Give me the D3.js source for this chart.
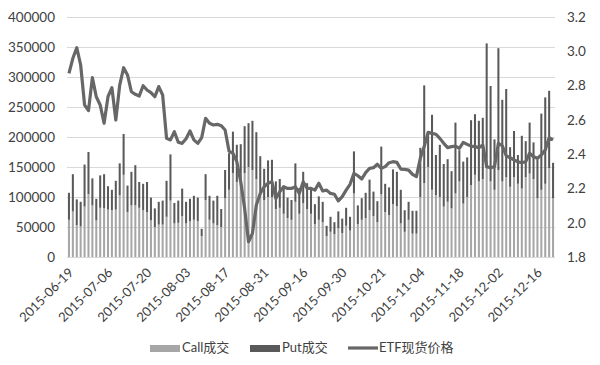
<!DOCTYPE html>
<html><head><meta charset="utf-8">
<script src="https://cdn.jsdelivr.net/npm/d3@7"></script>
<style>
body{margin:0;background:#fff;}
svg{display:block;font-family:Lato,"Noto Sans CJK SC",sans-serif;}
</style></head>
<body><svg id="c" width="600" height="365"></svg>
<script>
const dates = ["2015-06-19","2015-06-23","2015-06-24","2015-06-25","2015-06-26","2015-06-29","2015-06-30",
"2015-07-01","2015-07-02","2015-07-03","2015-07-06","2015-07-07","2015-07-08","2015-07-09","2015-07-10",
"2015-07-13","2015-07-14","2015-07-15","2015-07-16","2015-07-17","2015-07-20","2015-07-21","2015-07-22","2015-07-23","2015-07-24",
"2015-07-27","2015-07-28","2015-07-29","2015-07-30","2015-07-31","2015-08-03","2015-08-04","2015-08-05","2015-08-06","2015-08-07",
"2015-08-10","2015-08-11","2015-08-12","2015-08-13","2015-08-14","2015-08-17","2015-08-18","2015-08-19","2015-08-20","2015-08-21",
"2015-08-24","2015-08-25","2015-08-26","2015-08-27","2015-08-28","2015-08-31","2015-09-01","2015-09-02",
"2015-09-07","2015-09-08","2015-09-09","2015-09-10","2015-09-11","2015-09-14","2015-09-15","2015-09-16","2015-09-17","2015-09-18",
"2015-09-21","2015-09-22","2015-09-23","2015-09-24","2015-09-25","2015-09-28","2015-09-29","2015-09-30",
"2015-10-08","2015-10-09","2015-10-12","2015-10-13","2015-10-14","2015-10-15","2015-10-16","2015-10-19","2015-10-20","2015-10-21",
"2015-10-22","2015-10-23","2015-10-26","2015-10-27","2015-10-28","2015-10-29","2015-10-30","2015-11-02","2015-11-03","2015-11-04",
"2015-11-05","2015-11-06","2015-11-09","2015-11-10","2015-11-11","2015-11-12","2015-11-13","2015-11-16","2015-11-17","2015-11-18",
"2015-11-19","2015-11-20","2015-11-23","2015-11-24","2015-11-25","2015-11-26","2015-11-27","2015-11-30","2015-12-01","2015-12-02",
"2015-12-03","2015-12-04","2015-12-07","2015-12-08","2015-12-09","2015-12-10","2015-12-11","2015-12-14","2015-12-15","2015-12-16",
"2015-12-17","2015-12-18","2015-12-21","2015-12-22"];

// total volume (thousands)
const totalK = [107,138,96,92,154,175,131,97,136,138,118,112,127,156,205,119,142,153,125,122,
125,99,81,92,94,127,171,90,94,114,92,97,102,99,47,138,102,94,102,80,
145,173,209,187,188,218,223,227,208,168,147,161,162,126,130,115,99,95,156,115,
142,123,115,88,101,92,52,67,58,76,64,82,67,176,86,98,107,129,109,93,
184,122,116,146,142,112,78,92,77,77,182,286,208,237,170,187,155,163,143,224,
178,159,166,228,238,227,232,356,285,196,348,262,280,183,210,170,202,193,224,191,
163,239,266,277,157];
const callK = [62,76,53,51,84,105,86,61,82,81,79,78,79,103,137,75,86,86,82,78,
75,61,50,54,54,67,94,56,57,68,56,60,62,60,35,95,62,56,53,50,
98,112,140,125,125,140,150,145,130,105,95,100,100,80,82,72,65,62,92,72,
90,80,72,55,62,58,35,42,38,48,40,52,44,106,55,62,65,78,68,58,
105,75,70,88,85,56,42,62,39,39,100,123,150,112,103,100,84,92,81,106,
126,89,100,120,137,126,130,148,126,112,145,126,133,117,133,122,114,133,139,130,
98,112,122,148,98];
const callVol = callK.map(v => v * 1000);
const putVol = totalK.map((t, i) => (t - callK[i]) * 1000);
const etfPrice = [2.871,2.959,3.021,2.92,2.687,2.654,2.846,2.735,2.687,2.58,
2.735,2.788,2.599,2.803,2.904,2.862,2.764,2.749,2.739,2.799,
2.774,2.759,2.735,2.794,2.745,2.492,2.483,2.531,2.469,2.463,
2.49,2.535,2.483,2.463,2.496,2.609,2.58,2.57,2.574,2.566,
2.541,2.418,2.405,2.356,2.239,2.084,1.889,1.938,2.103,2.171,
2.21,2.23,2.239,2.142,2.181,2.21,2.2,2.2,2.21,2.171,
2.239,2.2,2.2,2.19,2.23,2.185,2.19,2.171,2.166,2.127,
2.152,2.19,2.224,2.288,2.274,2.255,2.292,2.317,2.321,2.341,
2.317,2.327,2.35,2.356,2.352,2.313,2.311,2.307,2.282,2.269,
2.376,2.444,2.527,2.521,2.516,2.492,2.463,2.438,2.444,2.447,
2.434,2.469,2.457,2.447,2.444,2.438,2.453,2.327,2.321,2.327,
2.463,2.449,2.391,2.379,2.366,2.356,2.35,2.356,2.405,2.385,
2.376,2.395,2.424,2.496,2.483];
const leftTicks = [0,50000,100000,150000,200000,250000,300000,350000,400000];
const rightTicks = [1.8,2.0,2.2,2.4,2.6,2.8,3.0,3.2];
const xTickLabels = ["2015-06-19","2015-07-06","2015-07-20","2015-08-03","2015-08-17","2015-08-31","2015-09-16","2015-09-30","2015-10-21","2015-11-04","2015-11-18","2015-12-02","2015-12-16"];
const seriesNames = ["Call成交","Put成交","ETF现货价格"];

const colCall = "#a6a6a6", colPut = "#595959", colLine = "#676767";
const svg = d3.select("#c");
const L = 67, R = 555, T = 17, B = 257;
const x = d3.scaleBand().domain(dates).range([L, R]).paddingInner(0.48).paddingOuter(0.24);
const yL = d3.scaleLinear().domain([0, 400000]).range([B, T]);
const yR = d3.scaleLinear().domain([1.8, 3.2]).range([B, T]);

// grid
svg.append("g").selectAll("line").data(leftTicks).join("line")
  .attr("x1", L).attr("x2", R).attr("y1", d => yL(d)).attr("y2", d => yL(d))
  .attr("stroke", "#d9d9d9").attr("stroke-width", 1).attr("shape-rendering","crispEdges");

// left axis
const axL = svg.append("g").attr("transform", `translate(${L},0)`)
  .call(d3.axisLeft(yL).tickValues(leftTicks).tickFormat(d3.format("d")).tickSize(0).tickPadding(12));
axL.select(".domain").remove();
axL.selectAll("text").attr("font-size", 13.5).attr("fill", "#404040").attr("font-family","Lato,sans-serif");

// right axis
const axR = svg.append("g").attr("transform", `translate(${R},0)`)
  .call(d3.axisRight(yR).tickValues(rightTicks).tickFormat(d3.format(".1f")).tickSize(0).tickPadding(12));
axR.select(".domain").remove();
axR.selectAll("text").attr("font-size", 13.5).attr("fill", "#404040").attr("font-family","Lato,sans-serif");

// bars
const stackData = dates.map((d, i) => ({date: d, call: callVol[i], put: putVol[i]}));
const series = d3.stack().keys(["call", "put"])(stackData);
const cols = {call: colCall, put: colPut};
svg.append("g").selectAll("g").data(series).join("g").attr("fill", s => cols[s.key])
  .selectAll("rect").data(s => s).join("rect")
  .attr("x", d => x(d.data.date)).attr("width", x.bandwidth())
  .attr("y", d => yL(d[1])).attr("height", d => yL(d[0]) - yL(d[1]));

// line
const line = d3.line().x((d, i) => x(dates[i]) + x.bandwidth() / 2).y(d => yR(d));
svg.append("path").datum(etfPrice).attr("d", line).attr("fill", "none")
  .attr("stroke", colLine).attr("stroke-width", 3.2).attr("stroke-linejoin", "round");

// x labels
const xl = svg.append("g").attr("transform", `translate(0,${B})`)
  .call(d3.axisBottom(x).tickValues(xTickLabels).tickSize(0).tickPadding(0));
xl.select(".domain").remove();
xl.selectAll("text").attr("font-size", 13).attr("fill", "#404040").attr("font-family","Lato,sans-serif")
  .attr("text-anchor", "end").attr("dy", null).attr("y", null)
  .attr("transform", "translate(3,14) rotate(-45)").attr("dominant-baseline", "middle");

// legend
const lg = svg.append("g").attr("font-size", 13).attr("fill", "#404040");
lg.append("rect").attr("x", 150).attr("y", 345).attr("width", 30).attr("height", 7).attr("fill", colCall);
lg.append("text").attr("x", 182).attr("y", 349).attr("dominant-baseline", "middle").text(seriesNames[0]);
lg.append("rect").attr("x", 250).attr("y", 345).attr("width", 30).attr("height", 7).attr("fill", colPut);
lg.append("text").attr("x", 282).attr("y", 349).attr("dominant-baseline", "middle").text(seriesNames[1]);
lg.append("line").attr("x1", 348).attr("x2", 378).attr("y1", 348).attr("y2", 348).attr("stroke", colLine).attr("stroke-width", 3.2);
lg.append("text").attr("x", 379).attr("y", 349).attr("dominant-baseline", "middle").text(seriesNames[2]);
</script></body></html>
